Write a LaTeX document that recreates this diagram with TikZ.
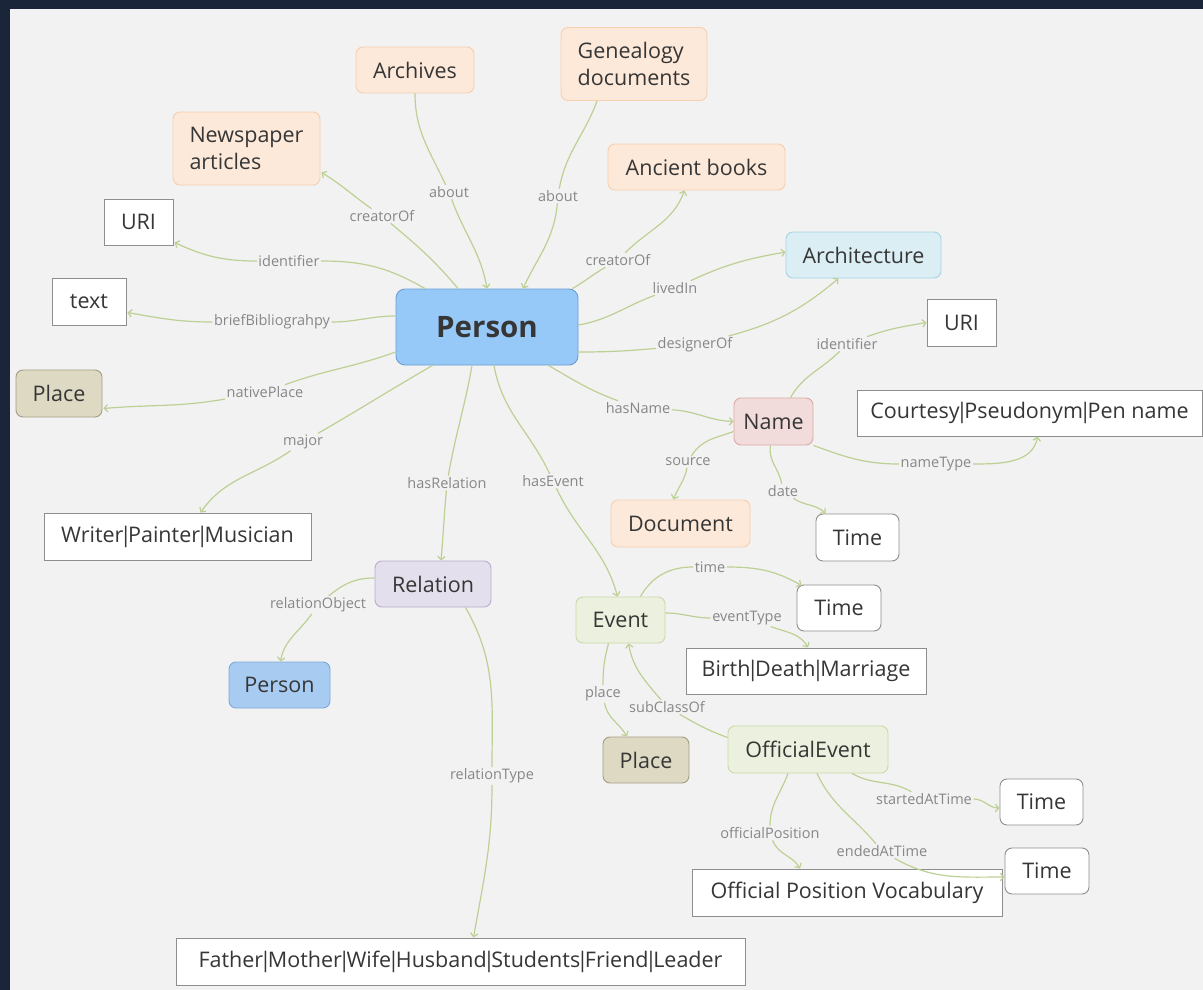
\documentclass[tikz,border=0pt]{standalone}
\usepackage{fontspec}
\setmainfont{Open Sans}
\usetikzlibrary{calc,arrows.meta}
\definecolor{spacebg}{HTML}{1B2539}
\definecolor{panelbg}{HTML}{F2F2F2}
\definecolor{ink}{HTML}{363636}
\definecolor{lblink}{HTML}{878787}
\definecolor{edgecol}{HTML}{BDD094}
\definecolor{peachF}{HTML}{FDE9D9}\definecolor{peachD}{HTML}{F6CFAF}
\definecolor{blueF}{HTML}{96C8F8}\definecolor{blueD}{HTML}{6E9ED0}
\definecolor{blue2F}{HTML}{A8CBF2}\definecolor{blue2D}{HTML}{7FA8D8}
\definecolor{cyanF}{HTML}{DBEEF4}\definecolor{cyanD}{HTML}{A6D3E3}
\definecolor{khakiF}{HTML}{DDD9C3}\definecolor{khakiD}{HTML}{A39F86}
\definecolor{pinkF}{HTML}{F2DCDB}\definecolor{pinkD}{HTML}{DCA9A7}
\definecolor{lavF}{HTML}{E4DFEC}\definecolor{lavD}{HTML}{B9ADD0}
\definecolor{greenF}{HTML}{EBF1DE}\definecolor{greenD}{HTML}{CADAA8}
\definecolor{boxD}{HTML}{8E8E8E}
% tight vertical bar between alternatives
\newcommand{\alt}{\kern-3.6pt|\kern-3.6pt}
\begin{document}
\begin{tikzpicture}[x=1pt,y=1pt,
  base/.style={inner sep=0pt, minimum height=46, text=ink, line width=0.9pt,
    font=\fontsize{21.5}{27}\selectfont},
  rbox/.style={base, rounded corners=7pt},
  peach/.style={rbox, fill=peachF, draw=peachD},
  bluebox/.style={rbox, fill=blueF, draw=blueD},
  blue2box/.style={rbox, fill=blue2F, draw=blue2D},
  cyanbox/.style={rbox, fill=cyanF, draw=cyanD},
  khaki/.style={rbox, fill=khakiF, draw=khakiD},
  pinkbox/.style={rbox, fill=pinkF, draw=pinkD},
  lavbox/.style={rbox, fill=lavF, draw=lavD},
  greenbox/.style={rbox, fill=greenF, draw=greenD},
  roundwhite/.style={rbox, fill=white, draw=boxD},
  sqwhite/.style={base, fill=white, draw=boxD},
  lbl/.style={inner sep=1.5pt, fill=panelbg, text=lblink,
    font=\fontsize{14.5}{16}\selectfont},
  edge/.style={draw=edgecol, line width=1.2pt,
    -{Straight Barb[length=3.5pt,width=7.5pt,line width=1.2pt]}}
]
\useasboundingbox (0,0) rectangle (1203,-990);
\fill[spacebg] (0,0) rectangle (1203,-990);
\fill[panelbg] (10,-9) rectangle (1203,-990);

% ---------- classes and values ----------
\node[peach, minimum width=118] (arch) at (415,-70) {Archives};
\node[peach, minimum width=146, minimum height=73, align=left] (gene) at (634,-64) {Genealogy\\documents};
\node[peach, minimum width=147, minimum height=73, align=left] (news) at (246.5,-148.5) {Newspaper\\articles};
\node[peach, minimum width=177] (anc) at (696.5,-167) {Ancient books};
\node[sqwhite, minimum width=69] (uri1) at (138.5,-222) {URI};
\node[sqwhite, minimum width=74, minimum height=47] (txt) at (89,-301.5) {text};
\node[bluebox, minimum width=182, minimum height=76, rounded corners=9pt,
  font=\fontsize{29.5}{32}\selectfont\bfseries, text=ink] (person) at (487,-327) {Person};
\node[cyanbox, minimum width=155] (archi) at (863.5,-255) {Architecture};
\node[sqwhite, minimum width=69, minimum height=47] (uri2) at (961.5,-322.5) {URI};
\node[khaki, minimum width=86, minimum height=47] (place1) at (59,-393.5) {Place};
\node[pinkbox, minimum width=79, minimum height=47] (name) at (773.5,-421.5) {Name};
\node[sqwhite, minimum width=345] (court) at (1029.5,-413) {Courtesy\alt Pseudonym\alt Pen name};
\node[peach, minimum width=139, minimum height=47] (doc) at (680.5,-523.5) {Document};
\node[roundwhite, minimum width=83, minimum height=47] (time1) at (857.5,-537.5) {Time};
\node[sqwhite, minimum width=267, minimum height=47] (writer) at (177.5,-536.5) {Writer\alt Painter\alt Musician};
\node[lavbox, minimum width=116] (rel) at (433,-584) {Relation};
\node[greenbox, minimum width=89] (event) at (620.5,-620) {Event};
\node[roundwhite, minimum width=84] (time2) at (839,-608) {Time};
\node[sqwhite, minimum width=240] (birth) at (806,-671) {Birth\alt Death\alt Marriage};
\node[blue2box, minimum width=101] (person2) at (279.5,-685) {Person};
\node[khaki, minimum width=86] (place2) at (646,-760) {Place};
\node[greenbox, minimum width=160, minimum height=47] (oe) at (808,-749.5) {OfficialEvent};
\node[roundwhite, minimum width=83] (time3) at (1041.5,-802) {Time};
\node[roundwhite, minimum width=84] (time4) at (1047,-871) {Time};
\node[sqwhite, minimum width=310, minimum height=47] (opv) at (847,-892.5) {Official Position Vocabulary};
\node[sqwhite, minimum width=569, minimum height=47] (fam) at (460.5,-961.5)
  {Father\alt Mother\alt Wife\alt Husband\alt Students\alt Friend\alt Leader};

% ---------- property labels ----------
\node[lbl] (lAbout1) at (449,-192) {about};
\node[lbl] (lAbout2) at (558,-196) {about};
\node[lbl] (lCreat1) at (382,-216) {creatorOf};
\node[lbl] (lCreat2) at (618,-260) {creatorOf};
\node[lbl] (lIdent1) at (289,-261) {identifier};
\node[lbl] (lBrief) at (272,-322) {briefBibliograhpy};
\node[lbl] (lNative) at (265,-392) {nativePlace};
\node[lbl] (lMajor) at (303,-442) {major};
\node[lbl] (lHasRel) at (447,-483) {hasRelation};
\node[lbl] (lHasEv) at (553,-481) {hasEvent};
\node[lbl] (lHasName) at (638,-408) {hasName};
\node[lbl] (lLived) at (675,-288) {livedIn};
\node[lbl] (lDesign) at (695,-345) {designerOf};
\node[lbl] (lIdent2) at (847,-344) {identifier};
\node[lbl] (lNameT) at (936,-464) {nameType};
\node[lbl] (lSource) at (688,-462) {source};
\node[lbl] (lDate) at (783,-491) {date};
\node[lbl] (lRelObj) at (318,-605) {relationObject};
\node[lbl] (lRelType) at (492,-776) {relationType};
\node[lbl] (lTime) at (710,-567) {time};
\node[lbl] (lEvType) at (747,-618) {eventType};
\node[lbl] (lPlace) at (603,-694) {place};
\node[lbl] (lSub) at (667,-707) {subClassOf};
\node[lbl] (lStart) at (924,-799) {startedAtTime};
\node[lbl] (lEnd) at (882,-851) {endedAtTime};
\node[lbl] (lOffPos) at (770,-833) {officialPosition};

% ---------- properties of Person ----------
\draw[edge] (arch.south) to[out=-90,in=115] (lAbout1) to[out=-70,in=100] (person.north);
\draw[edge] ($(gene.south)+(-37,0)$) to[out=-110,in=80] (lAbout2) to[out=-95,in=65] ($(person.north)+(36,0)$);
\draw[edge] ($(person.north)+(-29,0)$) to[out=130,in=-40] (lCreat1) to[out=145,in=-31] ($(news.east)+(1,-24)$);
\draw[edge] ($(person.north east)+(-6,0)$) to[out=30,in=210] (lCreat2) to[out=45,in=-110] ($(anc.south)+(-12,0)$);
\draw[edge] ($(person.north)+(-62,0)$) to[out=150,in=0] (lIdent1) to[out=180,in=-25] ($(uri1.south east)+(1,3)$);
\draw[edge] ($(person.west)+(0,11)$) to[out=180,in=0] (lBrief) to[out=180,in=-10] ($(txt.east)+(1,-11)$);
\draw[edge] ($(person.west)+(0,-25)$) to[out=200,in=20] (lNative) to[out=190,in=5] ($(place1.east)+(1,-15)$);
\draw[edge] ($(person.south west)+(37,0)$) to[out=-150,in=30] (lMajor) to[out=-145,in=55] ($(writer.north)+(23,0)$);
\draw[edge] ($(person.south)+(-15,0)$) to[out=-100,in=80] (lHasRel) to[out=-95,in=85] ($(rel.north)+(8,0)$);
\draw[edge] ($(person.south)+(7,0)$) to[out=-80,in=115] (lHasEv) to[out=-65,in=105] ($(event.north)+(-3,0)$);
\draw[edge] ($(person.south east)+(-30,0)$) to[out=-30,in=160] (lHasName) to[out=-3,in=178] (name.west);
\draw[edge] ($(person.east)+(0,2)$) to[out=10,in=200] (lLived) to[out=25,in=190] ($(archi.west)+(0,3)$);
\draw[edge] ($(person.east)+(0,-25)$) to[out=0,in=185] (lDesign) to[out=15,in=-140] ($(archi.south)+(-25,0)$);

% ---------- properties of Name ----------
\draw[edge] ($(name.north)+(17,0)$) to[out=60,in=-135] (lIdent2) to[out=20,in=190] (uri2.west);
\draw[edge] (name.south east) to[out=-20,in=180] (lNameT) to[out=0,in=-100] ($(court.south)+(8,0)$);
\draw[edge] ($(name.west)+(0,-10)$) to[out=200,in=60] (lSource) to[out=-100,in=70] ($(doc.north)+(-7,0)$);
\draw[edge] ($(name.south)+(-3,0)$) to[out=-100,in=100] (lDate) to[out=-35,in=135] ($(time1.north west)+(10,0)$);

% ---------- properties of Relation ----------
\draw[edge] ($(rel.west)+(0,6)$) to[out=180,in=40] (lRelObj) to[out=-125,in=80] ($(person2.north)+(1,0)$);
\draw[edge] ($(rel.south east)+(-26,0)$) to[out=-60,in=90] (lRelType) to[out=-90,in=80] ($(fam.north)+(13,0)$);

% ---------- properties of Event ----------
\draw[edge] ($(event.north east)+(-25,0)$) to[out=60,in=180] (lTime) to[out=0,in=150] ($(time2.north west)+(5,-1)$);
\draw[edge] ($(event.east)+(0,7)$) to[out=0,in=180] (lEvType) to[out=-20,in=120] ($(birth.north)+(2,0)$);
\draw[edge] ($(event.south)+(-12,0)$) to[out=-105,in=90] (lPlace) to[out=-80,in=120] ($(place2.north)+(-19,0)$);

% ---------- properties of OfficialEvent ----------
\draw[edge] ($(oe.west)+(0,12)$) to[out=160,in=-30] (lSub) to[out=130,in=-80] ($(event.south)+(8,0)$);
\draw[edge] ($(oe.south)+(44,0)$) to[out=-30,in=150] (lStart) to[out=0,in=180] ($(time3.west)+(0,-6)$);
\draw[edge] ($(oe.south)+(9,0)$) to[out=-65,in=130] (lEnd) to[out=-30,in=180] ($(time4.west)+(0,-6)$);
\draw[edge] ($(oe.south)+(-20,0)$) to[out=-110,in=90] (lOffPos) to[out=-70,in=120] ($(opv.north)+(-47,0)$);
\end{tikzpicture}
\end{document}
